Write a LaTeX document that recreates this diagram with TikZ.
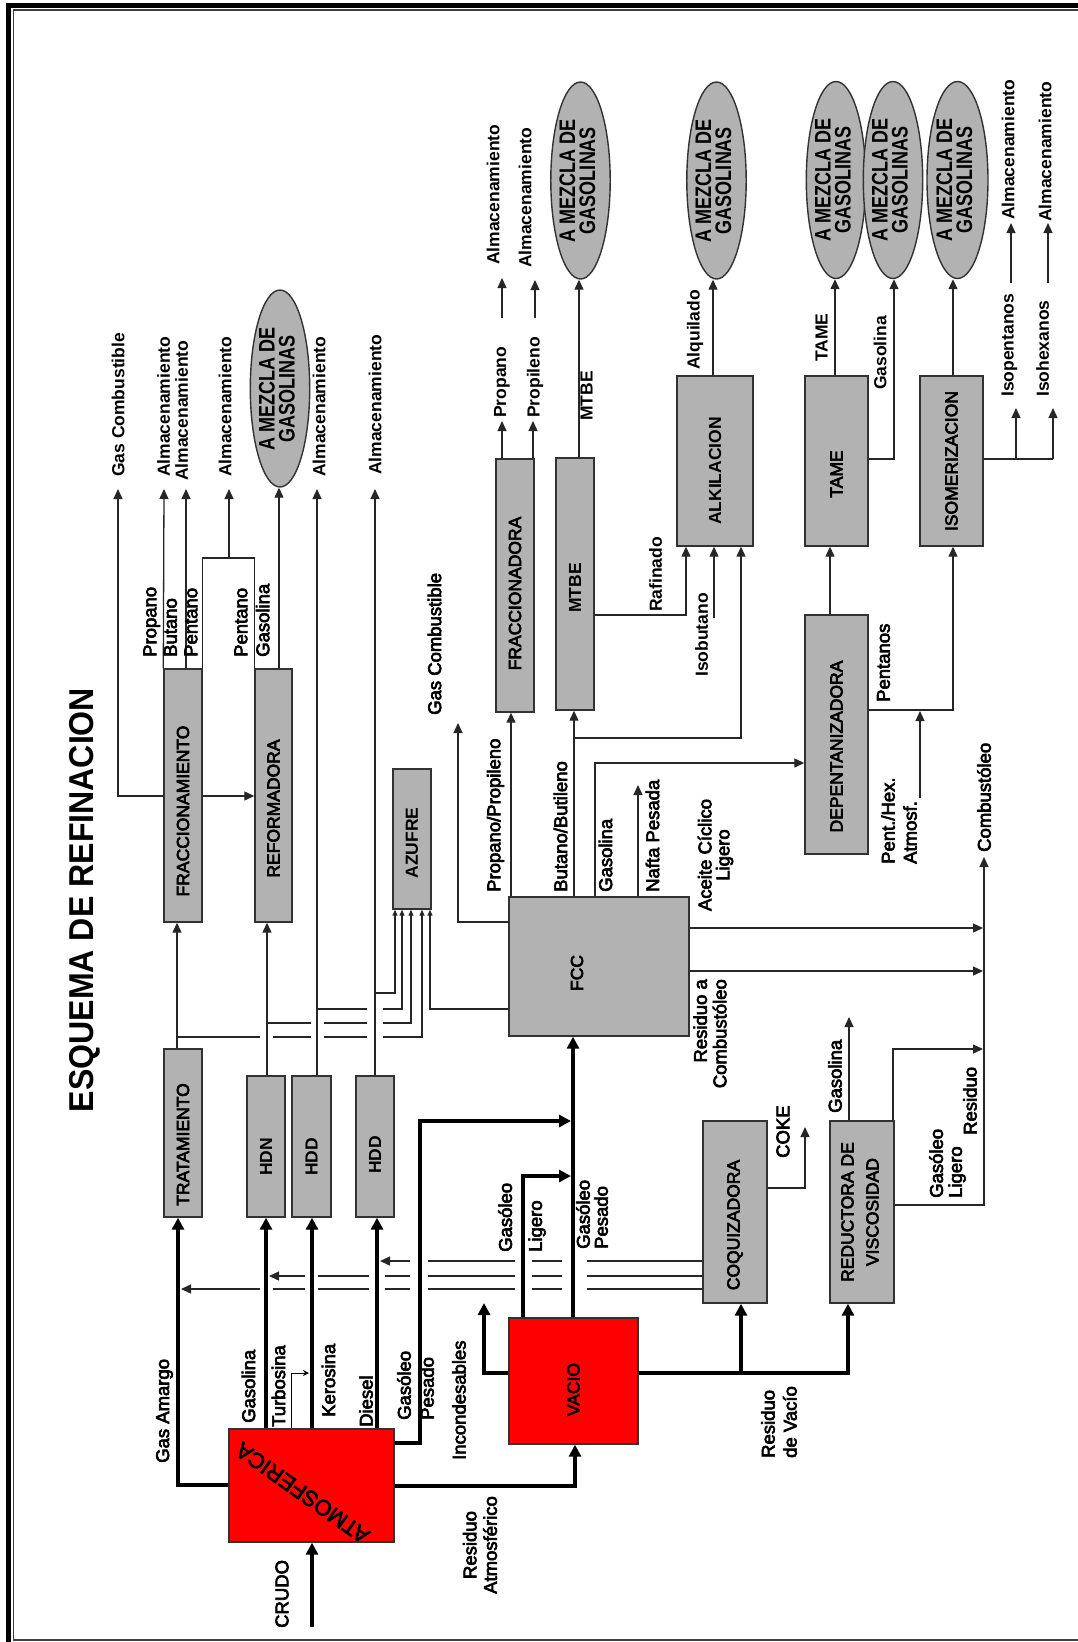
\documentclass[tikz,border=0pt]{standalone}
\usepackage{fontspec}
\setmainfont{Liberation Sans}
\newfontfamily\heavyfont[FakeBold=3.5]{Liberation Sans}
\usetikzlibrary{arrows.meta,shapes.geometric}
\definecolor{boxgray}{RGB}{178,178,178}
\definecolor{boxline}{RGB}{50,50,50}
\newcommand\fslab{\heavyfont\fontsize{18.5}{20.5}\selectfont}
\newcommand\fsbold{\bfseries\fontsize{17.5}{20}\selectfont}
\newcommand\fsbox{\heavyfont\fontsize{17.5}{20}\selectfont}
\newcommand\myrot[2][0pt]{\rotatebox{90}{#2\hspace*{#1}}}
\newcommand\mytwo[2]{\rotatebox{90}{\begin{tabular}{@{}c@{}}#1\\#2\end{tabular}}}
\newcommand\mezcla{\rotatebox{90}{\scalebox{0.8}[1]{\begin{tabular}{@{}c@{}}A MEZCLA DE\\[-2pt]GASOLINAS\end{tabular}}}}
\begin{document}
\begin{tikzpicture}[x=1pt,y=-1pt,
  thinl/.style={line width=1.3pt, draw=black!85},
  thickl/.style={line width=4pt, draw=black},
  ta/.style={-{Triangle[width=9pt,length=10pt]}},
  tk/.style={-{Triangle[width=12pt,length=12pt]}},
  ts/.style={-{Triangle[width=5pt,length=6pt]}},
  box/.style={draw=boxline, line width=1.4pt, fill=boxgray, inner sep=0pt, font=\fsbox},
  boxr/.style={box, fill=red},
  ell/.style={ellipse, draw=boxline, line width=1.4pt, fill=boxgray, inner sep=0pt, font=\bfseries\fontsize{22.5}{21}\selectfont},
  lab/.style={rotate=90, inner sep=0pt, anchor=west, font=\fslab},
  labb/.style={lab, font=\fsbold}]
\useasboundingbox (0,0) rectangle (1078,1642);
% frame
\draw[line width=5pt] (8.5,1660) -- (8.5,5) -- (1100,5);
\draw[line width=1.5pt, black!75] (1100,10) -- (13.5,10) -- (13.5,1640) -- (1100,1640);
% title
\node[rotate=90, font=\bfseries\fontsize{34.5}{36}\selectfont, inner sep=0pt] (title) at (85,900) {\scalebox{0.93}[1]{ESQUEMA DE REFINACION}};
% boxes
\node[box, minimum width=38pt, minimum height=253pt] (frac) at (183,795.5) {\myrot[31pt]{FRACCIONAMIENTO}};
\node[box, minimum width=37pt, minimum height=253pt] (refo) at (273.5,795.5) {\myrot[26pt]{REFORMADORA}};
\node[box, minimum width=38pt, minimum height=168pt] (trat) at (183,1133) {\myrot[23pt]{TRATAMIENTO}};
\node[box, font=\fsbold, minimum width=38pt, minimum height=141pt] (hdn) at (266,1146.5) {\myrot[21pt]{HDN}};
\node[box, font=\fsbold, minimum width=39pt, minimum height=141pt] (hdd1) at (311.5,1146.5) {\myrot[21pt]{HDD}};
\node[box, font=\fsbold, minimum width=38pt, minimum height=141pt] (hdd2) at (375,1146.5) {\myrot[17pt]{HDD}};
\node[box, font=\fsbold, minimum width=38pt, minimum height=140pt] (azu) at (412,839) {\myrot[8pt]{AZUFRE}};
\node[box, minimum width=180pt, minimum height=139pt] (fcc) at (599,966.5) {};
\node[font=\fsbox, inner sep=0pt] (fccT) at (577,973) {\myrot{FCC}};
\node[box, minimum width=38pt, minimum height=253pt] (fracd) at (515,585.5) {\myrot[16pt]{FRACCIONADORA}};
\node[box, font=\fsbold, minimum width=38pt, minimum height=252pt] (mtbe) at (575,584) {\myrot[8pt]{MTBE}};
\node[box, font=\fsbold, minimum width=76pt, minimum height=170pt] (alk) at (715,461) {\myrot[20pt]{ALKILACION}};
\node[box, minimum width=63pt, minimum height=170pt] (tame) at (836.5,461) {\myrot[26pt]{TAME}};
\node[box, minimum width=63pt, minimum height=170pt] (isom) at (951.5,461) {\myrot{ISOMERIZACION}};
\node[box, minimum width=63pt, minimum height=239pt] (dep) at (836.5,734.5) {\myrot[24pt]{DEPENTANIZADORA}};
\node[box, minimum width=64pt, minimum height=182pt] (coq) at (735,1212) {\myrot[26pt]{COQUIZADORA}};
\node[box, minimum width=64pt, minimum height=182pt] (red) at (862,1212) {\mytwo{REDUCTORA DE}{\rule{0pt}{19pt}VISCOSIDAD}};
\node[boxr, minimum width=165pt, minimum height=113pt] (atm) at (311.5,1485.5) {};
\node[rotate=144.7, font=\heavyfont\fontsize{22}{24}\selectfont, inner sep=0pt] (atmT) at (302.5,1493) {ATMOSFERICA};
\node[boxr, minimum width=129pt, minimum height=126pt] (vac) at (573.5,1381) {\myrot[17pt]{VACIO}};
% ellipses
\node[ell, minimum width=51pt, minimum height=197pt] (e1) at (280,388.5) {\mezcla};
\node[ell, minimum width=51pt, minimum height=197pt] (e2) at (580.5,180.5) {\mezcla};
\node[ell, minimum width=49pt, minimum height=197pt] (e3) at (716.5,180.5) {\mezcla};
\node[ell, minimum width=50pt, minimum height=197pt] (e4) at (836,180) {\mezcla};
\node[ell, minimum width=52pt, minimum height=197pt] (e5) at (893,180) {\mezcla};
\node[ell, minimum width=61pt, minimum height=197pt] (e6) at (957.5,180) {\mezcla};
% free ends
\coordinate (gcA) at (118,489);
\coordinate (alA) at (164,489);
\coordinate (alB) at (186,489);
\coordinate (alC) at (229,489);
\coordinate (alD) at (317,489);
\coordinate (alE) at (375,489);
\coordinate (jP) at (229,558);
% FRACCIONAMIENTO / REFORMADORA
\draw[thinl,ta] (frac.west |- 0,796) -- (118,796) -- (gcA);
\draw[thinl,ta] (frac.east |- 0,796) -- (refo.west |- 0,796);
\draw[thinl,ta] (frac.north west) -- (alA);
\draw[thinl,ta] (frac.north -| alB) -- (alB);
\draw[thinl] (frac.north east) -- (frac.north east |- jP) -- (refo.north west |- jP) -- (refo.north west);
\draw[thinl,ta] (jP) -- (alC);
\draw[thinl,ta] (refo.north -| 279,0) -- (e1.south -| 279,0);
\draw[thinl,ta] (trat.north -| 177,0) -- (frac.south -| 177,0);
\draw[thinl,ta] (hdn.north -| 267,0) -- (refo.south -| 267,0);
\draw[thinl,ta] (hdd1.north -| alD) -- (alD);
\draw[thinl,ta] (hdd2.north) -- (alE);
% to AZUFRE
\draw[thinl] (177,1037) -- (260,1037) (273,1037) -- (311,1037) (324,1037) -- (367,1037);
\draw[thinl,ts] (383,1037) -- (422,1037) -- (azu.south -| 422,0);
\draw[thinl] (267,1023) -- (311,1023) (324,1023) -- (367,1023);
\draw[thinl,ts] (383,1023) -- (411,1023) -- (azu.south -| 411,0);
\draw[thinl] (317,1009) -- (367,1009);
\draw[thinl,ts] (383,1009) -- (402,1009) -- (azu.south -| 402,0);
\draw[thinl,ts] (375,993) -- (395,993) -- (azu.south -| 395,0);
\draw[thinl,ts] (fcc.west |- 0,1009) -- (430,1009) -- (azu.south -| 430,0);
% ATMOSFERICA
\coordinate (fccfeed) at (571,1121);
\coordinate (crudo) at (312,1627);
\draw[thickl,tk] (atm.west |- 0,1485) -- (178,1485) -- (trat.south -| 178,0);
\draw[thickl,tk] (atm.north -| hdn.south) -- (hdn.south);
\draw[line width=1pt,-{Stealth[width=6pt,length=6pt]}] (atm.north -| 291,0) -- (291,1373) -- (309,1373);
\draw[thickl,tk] (atm.north -| 312,0) -- (hdd1.south -| 312,0);
\draw[thickl,tk] (atm.north -| 377,0) -- (hdd2.south -| 377,0);
\draw[thickl,tk] (atm.east |- 0,1443) -- (420,1443) -- (420,1121) -- (fccfeed);
\draw[thickl,tk] (atm.east |- 0,1486) -- (575,1486) -- (vac.south -| 575,0);
\draw[thickl,tk] (crudo) -- (atm.south -| crudo);
% VACIO
\coordinate (inco) at (484,1303);
\coordinate (fccfeedB) at (571,1176);
\draw[thickl,tk] (vac.west |- 0,1373) -- (484,1373) -- (inco);
\draw[thickl,tk] (vac.north -| 523,0) -- (523,1176) -- (fccfeedB);
\draw[thickl,tk] (vac.north -| 573,0) -- (fcc.south -| 573,0);
\draw[thickl,tk] (vac.east |- 0,1373) -- (848,1373) -- (red.south -| 848,0);
\draw[thickl,tk] (741,1373) -- (coq.south -| 741,0);
% COQUIZADORA gas lines
\draw[thinl] (coq.west |- 0,1261) -- (587,1261) (562,1261) -- (532,1261) (515,1261) -- (428,1261);
\draw[thinl,ta] (410,1261) -- (380,1261);
\draw[thinl] (coq.west |- 0,1276) -- (587,1276) (562,1276) -- (532,1276) (515,1276) -- (428,1276) (410,1276) -- (385,1276) (369,1276) -- (318,1276);
\draw[thinl,ta] (305,1276) -- (269,1276);
\draw[thinl] (coq.west |- 0,1289) -- (587,1289) (562,1289) -- (532,1289) (515,1289) -- (428,1289) (410,1289) -- (385,1289) (369,1289) -- (318,1289) (305,1289) -- (273,1289);
\draw[thinl,ta] (260,1289) -- (181,1289);
\coordinate (coke) at (805,1127);
\draw[thinl,ta] (coq.east |- 0,1188) -- (coke |- 0,1188) -- (coke);
% REDUCTORA
\coordinate (redgas) at (849,1017);
\coordinate (comb) at (984,857);
\draw[thinl,ta] (red.north -| redgas) -- (redgas);
\draw[thinl,ta] (red.north -| 893,0) -- (893,1049) -- (983,1049);
\draw[thinl,ta] (red.east |- 0,1205) -- (comb |- 0,1205) -- (comb);
% FCC
\coordinate (gcB) at (458,723);
\coordinate (nafta) at (638,785);
\draw[thinl,ta] (fcc.east |- 0,928) -- (983,928);
\draw[thinl,ta] (fcc.east |- 0,971) -- (983,971);
\draw[thinl,ta] (fcc.west |- 0,922) -- (gcB |- 0,922) -- (gcB);
\draw[thinl,ta] (fcc.north -| 511,0) -- (fracd.south -| 511,0);
\draw[thinl,ta] (fcc.north -| 574,0) -- (mtbe.south -| 574,0);
\draw[thinl,ta] (574,738) -- (741,738) -- (alk.south -| 741,0);
\draw[thinl,ta] (fcc.north -| 595,0) -- (595,763) -- (dep.west |- 0,763);
\draw[thinl,ta] (fcc.north -| nafta) -- (nafta);
% MTBE
\coordinate (isob) at (714,618);
\draw[thinl,ta] (mtbe.north -| 579,0) -- (e2.south -| 579,0);
\draw[thinl,ta] (mtbe.east |- 0,615) -- (686,615) -- (alk.south -| 686,0);
\draw[thinl,ta] (isob) -- (alk.south -| isob);
% FRACCIONADORA
\coordinate (prA) at (502,421);
\coordinate (prB) at (533,421);
\coordinate (stA0) at (502,318);
\coordinate (stA1) at (502,278);
\coordinate (stB0) at (535,318);
\coordinate (stB1) at (535,280);
\draw[thinl,ta] (fracd.north -| prA) -- (prA);
\draw[thinl,ta] (fracd.north -| prB) -- (prB);
\draw[thinl,ta] (stA0) -- (stA1);
\draw[thinl,ta] (stB0) -- (stB1);
% ALKILACION, TAME, ISOMERIZACION, DEPENTANIZADORA
\coordinate (iso1) at (1016,408);
\coordinate (iso2) at (1053,408);
\coordinate (pha) at (920,798);
\draw[thinl,ta] (alk.north -| 713,0) -- (e3.south -| 713,0);
\draw[thinl,ta] (dep.north -| 830,0) -- (tame.south -| 830,0);
\draw[thinl,ta] (tame.north -| 835,0) -- (e4.south -| 835,0);
\draw[thinl,ta] (tame.east |- 0,459) -- (894,459) -- (e5.south -| 894,0);
\draw[thinl,ta] (isom.north -| 953,0) -- (e6.south -| 953,0);
\draw[thinl] (isom.east |- 0,459) -- (iso2 |- 0,459);
\draw[thinl,ta] (iso1 |- 0,459) -- (iso1);
\draw[thinl,ta] (iso2 |- 0,459) -- (iso2);
\draw[thinl,ta] (1011,283) -- (1011,223);
\draw[thinl,ta] (1048,283) -- (1048,223);
\draw[thinl,ta] (dep.east |- 0,710) -- (953,710) -- (isom.south -| 953,0);
\draw[thinl,ta] (pha) -- (920,711);
% labels top-left
\node[labb] (tGC1) at (118,477) {Gas Combustible};
\node[labb] (tAl1) at (163.5,477) {Almacenamiento};
\node[labb] (tAl2) at (181.5,481) {Almacenamiento};
\node[labb] (tAl3) at (225,477) {Almacenamiento};
\node[labb] (tAl4) at (319,477) {Almacenamiento};
\node[labb] (tAl5) at (375,475) {Almacenamiento};
\node[lab, align=left] (tPBP) at (170.5,657) {Propano\\Butano\\Pentano};
\node[lab, align=left] (tPG) at (252,657) {Pentano\\[1.5pt]Gasolina};
% labels top right
\node[labb] (tAl6) at (493,265) {Almacenamiento};
\node[labb] (tAl7) at (525,268) {Almacenamiento};
\node[labb] (tPro) at (502,418) {Propano};
\node[labb] (tPrl) at (535,418) {Propileno};
\node[labb] (tMT) at (586.5,421) {MTBE};
\node[labb] (tAlq) at (695,370) {Alquilado};
\node[labb] (tTA) at (821.5,362) {TAME};
\node[labb] (tGa1) at (880,390) {Gasolina};
\node[labb] (tIsp) at (1009.5,397) {Isopentanos};
\node[labb] (tIsh) at (1042.5,397) {Isohexanos};
\node[labb] (tAl8) at (1008,220) {Almacenamiento};
\node[labb] (tAl9) at (1045,222) {Almacenamiento};
\node[labb] (tRaf) at (655.5,612) {Rafinado};
\node[labb] (tIsb) at (701.5,677) {Isobutano};
\node[lab] (tPen) at (883.5,702) {Pentanos};
\node[lab, align=left] (tPH) at (899,864) {Pent./Hex.\\[1.5pt]Atmosf.};
\node[lab] (tCo) at (984,852) {Combustóleo};
% FCC labels
\node[lab] (tGC2) at (434.5,715) {Gas Combustible};
\node[lab] (tPP) at (495.5,892) {Propano/Propileno};
\node[lab] (tBB) at (560.5,892) {Butano/Butileno};
\node[lab] (tGa2) at (605.5,892) {Gasolina};
\node[lab] (tNP) at (652.5,892) {Nafta Pesada};
\node[lab, align=center, anchor=center] (tAC) at (715.5,855) {Aceite Cíclico\\[-2.5pt]Ligero};
\node[lab, align=right, anchor=east] (tRC) at (710,979) {Residuo a\\[-1pt]Combustóleo};
% COQ / RED labels
\node[lab] (tCK) at (783,1158) {COKE};
\node[lab] (tGa3) at (835,1113) {Gasolina};
\node[lab] (tRes) at (970,1135) {Residuo};
\node[lab, align=left] (tGL2) at (947.5,1198) {Gasóleo\\[-1.5pt]Ligero};
% ATM / VAC labels
\node[lab] (tGA) at (164.5,1463) {Gas Amargo};
\node[lab] (tGa4) at (248.5,1423) {Gasolina};
\node[lab] (tTu) at (278.5,1427) {Turbosina};
\node[lab] (tKe) at (328.5,1417) {Kerosina};
\node[lab] (tDi) at (366,1427) {Diesel};
\node[lab, align=left] (tGP1) at (415.5,1420) {Gasóleo\\[2.5pt]Pesado};
\node[lab] (tInc) at (459,1460) {Incondesables};
\node[lab, align=center, anchor=center] (tRA) at (480,1545) {Residuo\\Atmosférico};
\node[lab, align=left] (tGL1) at (522,1252) {Gasóleo\\[9.5pt]Ligero};
\node[lab, align=left] (tGP2) at (592,1249) {Gasóleo\\[-2.5pt]Pesado};
\node[lab, align=left] (tRV) at (779,1458) {Residuo\\[1.5pt]de Vacío};
\node[lab] (tCR) at (282,1628) {CRUDO};
\end{tikzpicture}
\end{document}
